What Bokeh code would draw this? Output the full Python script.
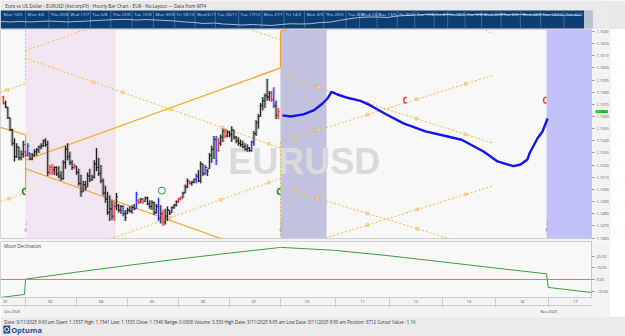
import numpy as np
from bokeh.plotting import figure
from bokeh.models import (Range1d, LinearAxis, FixedTicker, BoxAnnotation, Span, Label,
                          ColumnDataSource, NumeralTickFormatter)
from bokeh.layouts import column
from bokeh.embed import file_html
from bokeh.resources import INLINE
from bokeh.core.properties import value

FONT = "Open Sans"

# ---------------- texts ----------------
title_text = ("Euro vs US Dollar - EURUSD (AxicorpFX) - Hourly Bar Chart - EUR - "
              "No Layout --- Data from MT4")
status_text = ("Date: 3/11/2025 9:00 am Open: 1.1537 High: 1.1541 Low: 1.1533 Close: 1.1540 "
               "Range: 0.0008 Volume: 3,330 High Date: 3/11/2025 9:05 am Low Date: 3/11/2025 "
               "9:30 am Position: 8712 Cursor Value : 1.16")

# ---------------- navigator (long history) ----------------
nav_labels = ["Mon 13/5", "Mon 3/6", "Thu 20/6", "Wed 17/7", "Tue 6/8", "Thu 22/8", "Tue 10/9",
              "Mon 30/9", "Fri 18/10", "Wed 6/11", "Tue 26/11", "Tue 17/12", "Mon 27/1",
              "Fri 14/2", "Mon 3/3", "Thu 20/3", "Tue 8/4", "Wed 23/4", "Tue 13/5", "Fri 30/5",
              "Tue 17/6", "Fri 4/7", "Fri 18/7", "Tue 5/8", "Wed 20/8", "Tue 9/9", "Wed 24/9",
              "Tue 14/10", "Tue 4/11"]
nav_sep_px = [26, 50, 70, 93, 114, 136, 158, 180, 201, 222, 246, 270, 293, 314, 334, 357, 371,
              389, 410, 428, 448, 462, 480, 497, 517, 537, 558, 582]
nav_close = [1.081, 1.075, 1.081, 1.075, 1.081, 1.087, 1.081, 1.075, 1.081, 1.087, 1.094, 1.100,
             1.106, 1.109, 1.100, 1.106, 1.100, 1.094, 1.087, 1.075, 1.068, 1.055, 1.062, 1.049,
             1.043, 1.036, 1.043, 1.036, 1.030, 1.043, 1.052, 1.049, 1.052, 1.068, 1.072, 1.094,
             1.115, 1.132, 1.138, 1.138, 1.132, 1.151, 1.157, 1.164, 1.170, 1.166, 1.170, 1.164,
             1.164, 1.170, 1.167, 1.164, 1.170, 1.166, 1.170, 1.164, 1.166, 1.164, 1.160, 1.164,
             1.157]

# ---------------- hourly bars (x = bar number, 0 = Mon 3 Nov 00:00) ----------------
bar_x = list(range(-10, 115))
bar_high = [
    1.1577, 1.1573, 1.1568, 1.1559, 1.1550, 1.1542, 1.1538, 1.1535, 1.1532, 1.1540,
    1.1532, 1.1538, 1.1530, 1.1530, 1.1533, 1.1534, 1.1536, 1.1538, 1.1541, 1.1542,
    1.1540, 1.1520, 1.1521, 1.1519, 1.1519, 1.1519, 1.1515, 1.1524, 1.1536, 1.1538,
    1.1531, 1.1524, 1.1521, 1.1519, 1.1517, 1.1512, 1.1507, 1.1507, 1.1514, 1.1517,
    1.1512, 1.1524, 1.1534, 1.1526, 1.1520, 1.1509, 1.1503, 1.1498, 1.1495, 1.1491,
    1.1490, 1.1497, 1.1488, 1.1487, 1.1487, 1.1483, 1.1485, 1.1486, 1.1487, 1.1488,
    1.1498, 1.1492, 1.1493, 1.1493, 1.1494, 1.1494, 1.1491, 1.1491, 1.1490, 1.1488,
    1.1493, 1.1487, 1.1483, 1.1484, 1.1486, 1.1483, 1.1486, 1.1488, 1.1491, 1.1493,
    1.1494, 1.1498, 1.1504, 1.1509, 1.1507, 1.1507, 1.1509, 1.1513, 1.1516, 1.1523,
    1.1521, 1.1520, 1.1517, 1.1530, 1.1536, 1.1544, 1.1544, 1.1542, 1.1545, 1.1550,
    1.1550, 1.1549, 1.1548, 1.1552, 1.1549, 1.1544, 1.1543, 1.1541, 1.1540, 1.1538,
    1.1537, 1.1535, 1.1540, 1.1548, 1.1557, 1.1562, 1.1571, 1.1576, 1.1579, 1.1591,
    1.1581, 1.1581, 1.1584, 1.1573, 1.1567]
bar_low = [
    1.1570, 1.1567, 1.1558, 1.1548, 1.1536, 1.1523, 1.1526, 1.1524, 1.1524, 1.1526,
    1.1527, 1.1527, 1.1524, 1.1524, 1.1527, 1.1528, 1.1530, 1.1533, 1.1535, 1.1535,
    1.1511, 1.1512, 1.1512, 1.1512, 1.1511, 1.1509, 1.1507, 1.1508, 1.1517, 1.1524,
    1.1520, 1.1516, 1.1517, 1.1512, 1.1503, 1.1494, 1.1498, 1.1499, 1.1502, 1.1506,
    1.1507, 1.1509, 1.1515, 1.1511, 1.1505, 1.1495, 1.1489, 1.1479, 1.1474, 1.1475,
    1.1474, 1.1483, 1.1481, 1.1480, 1.1478, 1.1474, 1.1480, 1.1481, 1.1480, 1.1483,
    1.1484, 1.1488, 1.1489, 1.1488, 1.1490, 1.1487, 1.1484, 1.1483, 1.1479, 1.1480,
    1.1474, 1.1472, 1.1470, 1.1471, 1.1474, 1.1479, 1.1481, 1.1484, 1.1486, 1.1489,
    1.1491, 1.1493, 1.1497, 1.1501, 1.1504, 1.1503, 1.1505, 1.1505, 1.1506, 1.1505,
    1.1511, 1.1512, 1.1511, 1.1517, 1.1522, 1.1525, 1.1520, 1.1531, 1.1536, 1.1539,
    1.1542, 1.1543, 1.1543, 1.1539, 1.1541, 1.1538, 1.1536, 1.1535, 1.1534, 1.1532,
    1.1531, 1.1531, 1.1531, 1.1536, 1.1544, 1.1550, 1.1560, 1.1565, 1.1567, 1.1573,
    1.1573, 1.1572, 1.1567, 1.1558, 1.1558]
bar_open = [
    1.1576, 1.1571, 1.1567, 1.1559, 1.1549, 1.1538, 1.1527, 1.1535, 1.1526, 1.1529,
    1.1531, 1.1528, 1.1530, 1.1525, 1.1528, 1.1531, 1.1532, 1.1535, 1.1536, 1.1540,
    1.1537, 1.1514, 1.1518, 1.1516, 1.1518, 1.1513, 1.1511, 1.1509, 1.1522, 1.1533,
    1.1527, 1.1522, 1.1518, 1.1519, 1.1514, 1.1505, 1.1498, 1.1504, 1.1502, 1.1511,
    1.1508, 1.1510, 1.1521, 1.1518, 1.1513, 1.1507, 1.1497, 1.1492, 1.1481, 1.1484,
    1.1478, 1.1486, 1.1487, 1.1483, 1.1486, 1.1480, 1.1480, 1.1483, 1.1482, 1.1485,
    1.1484, 1.1491, 1.1489, 1.1492, 1.1490, 1.1493, 1.1488, 1.1486, 1.1489, 1.1481,
    1.1486, 1.1476, 1.1480, 1.1473, 1.1478, 1.1483, 1.1481, 1.1485, 1.1487, 1.1490,
    1.1492, 1.1493, 1.1497, 1.1502, 1.1507, 1.1505, 1.1506, 1.1508, 1.1511, 1.1507,
    1.1521, 1.1513, 1.1518, 1.1517, 1.1528, 1.1533, 1.1541, 1.1532, 1.1538, 1.1543,
    1.1548, 1.1544, 1.1547, 1.1545, 1.1549, 1.1543, 1.1540, 1.1538, 1.1537, 1.1535,
    1.1533, 1.1534, 1.1532, 1.1539, 1.1546, 1.1555, 1.1560, 1.1569, 1.1573, 1.1577,
    1.1576, 1.1579, 1.1574, 1.1569, 1.1561]
bar_close = [
    1.1571, 1.1568, 1.1559, 1.1549, 1.1538, 1.1527, 1.1535, 1.1526, 1.1529, 1.1537,
    1.1528, 1.1536, 1.1525, 1.1528, 1.1531, 1.1533, 1.1535, 1.1536, 1.1540, 1.1537,
    1.1514, 1.1518, 1.1516, 1.1518, 1.1513, 1.1511, 1.1509, 1.1522, 1.1533, 1.1527,
    1.1522, 1.1518, 1.1520, 1.1514, 1.1505, 1.1498, 1.1504, 1.1501, 1.1511, 1.1508,
    1.1510, 1.1521, 1.1518, 1.1513, 1.1507, 1.1497, 1.1492, 1.1481, 1.1484, 1.1478,
    1.1486, 1.1494, 1.1483, 1.1486, 1.1480, 1.1477, 1.1483, 1.1482, 1.1485, 1.1484,
    1.1496, 1.1489, 1.1492, 1.1490, 1.1493, 1.1488, 1.1486, 1.1489, 1.1481, 1.1486,
    1.1476, 1.1480, 1.1473, 1.1478, 1.1483, 1.1480, 1.1485, 1.1487, 1.1490, 1.1492,
    1.1493, 1.1497, 1.1502, 1.1507, 1.1505, 1.1506, 1.1508, 1.1511, 1.1507, 1.1521,
    1.1513, 1.1518, 1.1515, 1.1528, 1.1533, 1.1541, 1.1524, 1.1538, 1.1543, 1.1548,
    1.1544, 1.1547, 1.1545, 1.1549, 1.1543, 1.1540, 1.1538, 1.1537, 1.1535, 1.1533,
    1.1534, 1.1532, 1.1539, 1.1546, 1.1555, 1.1560, 1.1569, 1.1573, 1.1577, 1.1576,
    1.1579, 1.1574, 1.1569, 1.1561, 1.1564]
red_bars = [-10, 0, 11, 12, 22, 40, 51, 53, 62, 69, 70, 74, 87, 90, 111, 114]
blue_bars = [1, 44, 50, 60, 77, 81, 86, 102, 112]
last_price = 1.1564

# ---------------- projection curve ----------------
fc_x = [115.9, 119.5, 125.4, 129.9, 134.0, 136.2, 138.0, 140.7, 145.2, 151.1, 155.6, 162.4,
        170.5, 180.4, 188.5, 196.7, 200.7, 206.6, 212.9, 220.1, 223.3, 226.4, 227.3, 230.9,
        233.2, 235.5]
fc_y = [1.15609, 1.15600, 1.15617, 1.15650, 1.15707, 1.15748, 1.15802, 1.15781, 1.15754,
        1.15728, 1.15691, 1.15621, 1.15543, 1.15477, 1.15444, 1.15409, 1.15370, 1.15312,
        1.15230, 1.15191, 1.15205, 1.15246, 1.15296, 1.15419, 1.15477, 1.15584]

# ---------------- moon declination ----------------
md_x = [-11.3, -0.5, 0, 23, 46, 69, 92, 114, 115, 139, 163, 187, 211, 235, 235.8, 255.3]
md_y = [-15.4, -12.8, 0.3, 6.3, 12.0, 17.5, 22.6, 27.2, 27.5, 25.0, 20.5, 15.3, 10.0, 4.9,
        -6.8, -11.1]

# ---------------- time axis ----------------
day_bounds = [0, 23, 46, 69, 92, 115, 140, 164, 188, 212, 236]
day_ticks = [-9, 11, 34, 57, 80, 103, 127, 152, 176, 200, 224, 248]
day_labels = ["31", "03", "04", "05", "06", "07", "10", "11", "12", "13", "14", "17"]
month_ticks = [-6, 236]
month_labels = ["Oct 2025", "Nov 2025"]
price_ticks = [round(1.146 + 0.001 * k, 4) for k in range(18)]
decl_ticks = [-10, 0, 10, 20]

# ---------------- drawing tools (anchor points: bar, price) ----------------
solid_x0 = [-11.3, 0, 0, 0, 115, 115]
solid_y0 = [1.1551, 1.1545, 1.1524, 1.1517, 1.1630, 1.1630]
solid_x1 = [0, 0, 115, 89, 115, 121]
solid_y1 = [1.1545, 1.1498, 1.1600, 1.1459, 1.1600, 1.1634]
dot_x0 = [0, 0, 0, -11.3, -11.3, 38, 99, 115, 115, 115, 115, 132, 201]
dot_y0 = [1.1631, 1.1614, 1.1608, 1.1580, 1.1490, 1.1459, 1.1633, 1.1539, 1.1594, 1.1539,
          1.1502, 1.1458, 1.1637]
dot_x1 = [0, 29, 115, 0, 0, 115, 115, 115, 211, 211, 194, 211, 211]
dot_y1 = [1.1587, 1.1633, 1.1534, 1.1587, 1.1497, 1.1509, 1.1623, 1.1459, 1.1538, 1.1594,
          1.1458, 1.1503, 1.1628]
# markers on the tool lines: (line index in dotted list, bar)
mark_line = [2, 2, 2, 2, 2, 5, 5, 5, 8, 8, 8, 8, 9, 9, 9, 9, 10, 10, 10, 11, 11, 11, 3, 4]
mark_bar = [30.7, 43.8, 65.4, 88.9, 109.6, 65.4, 88.0, 109.6, 132.2, 154.3, 176.4, 198.5,
            132.2, 154.3, 176.4, 198.5, 131.7, 154.3, 176.8, 154.3, 176.8, 198.5, -8.3, -7.5]

# ---------------- event bands & cycle markers ----------------
band_left = [0, 115, 235]
band_right = [40.6, 135.8, None]
band_color = ["#f1e5f1", "#c2c2de", "#c1c1f7"]
green_cres_x = [0, 115]
green_cres_y = [1.14983, 1.14983]
red_cres_x = [171.9, 235]
red_cres_y = [1.15734, 1.15734]
astro_x = [0, 115, 235]
signal_x = [61.5]
signal_y = [1.1499]

# =====================================================================
BG = "#f3f3f3"
PLOT_BG = "#f8f8f8"
ORANGE = "#f6a320"
DOT_ORANGE = "#f8b548"
FRAME_W = 591

# ---------------- header ----------------
hdr = figure(width=625, height=29, x_range=Range1d(0, 625), y_range=Range1d(29, 0),
             toolbar_location=None, output_backend="svg", x_axis_location=None,
             y_axis_location=None, min_border=0)
hdr.grid.visible = False
hdr.outline_line_color = None
hdr.background_fill_color = "#e9e9e9"
hdr.border_fill_color = "#e9e9e9"
hdr.text(x=[5], y=[5], text=[title_text], text_font=value(FONT), text_font_size="4.6px",
         text_color="#333333", text_baseline="middle")
hdr.quad(left=[0], right=[603], top=[10], bottom=[28], fill_color="#0c3d73", line_color=None)
hdr.quad(left=[603], right=[612], top=[10], bottom=[28], fill_color="#b7c2d2", line_color=None)
hdr.segment(x0=nav_sep_px, y0=[10] * len(nav_sep_px), x1=nav_sep_px, y1=[28] * len(nav_sep_px),
            line_color="#3a6aa2", line_width=1)
nav_starts = [3] + [s + 2 for s in nav_sep_px]
hdr.text(x=nav_starts, y=[13.4] * len(nav_starts), text=nav_labels, text_font=value(FONT),
         text_font_size="4.3px", text_color="#cfdbea", text_baseline="middle")
hdr.extra_y_ranges = {"nav": Range1d(0.979, 1.348)}
hdr.line(x=list(np.linspace(0, 600, len(nav_close))), y=nav_close, y_range_name="nav",
         line_color="#e8eef6", line_width=0.8, line_alpha=0.9)

# ---------------- main price panel ----------------
xr = Range1d(-11.3, 255.3)
yr = Range1d(1.14596, 1.16316)
main = figure(frame_width=FRAME_W, frame_height=209, x_range=xr, y_range=yr,
              y_axis_location="right", x_axis_location=None, toolbar_location=None,
              output_backend="svg", min_border_left=0, min_border_top=0,
              min_border_bottom=0, min_border_right=0)
main.grid.visible = False
main.background_fill_color = PLOT_BG
main.border_fill_color = BG
main.outline_line_color = "#d4d4d4"
ya = main.yaxis[0]
ya.ticker = FixedTicker(ticks=price_ticks)
ya.formatter = NumeralTickFormatter(format="0.0000")
ya.major_label_text_font = FONT
ya.major_label_text_font_size = "3.9px"
ya.major_label_text_color = "#555555"
ya.major_tick_out = 3
ya.major_tick_in = 0
ya.minor_tick_line_color = None
ya.major_tick_line_color = "#999999"
ya.axis_line_color = "#c8c8c8"
ya.major_label_standoff = 2

for l, r, c in zip(band_left, band_right, band_color):
    main.add_layout(BoxAnnotation(left=l, right=r, fill_color=c, fill_alpha=1.0,
                                  line_alpha=0, level="underlay"))

# watermark
main.text(x=[xr.start + 0.514 * (xr.end - xr.start)], y=[yr.start + 0.369 * (yr.end - yr.start)],
          text=["EURUSD"], text_font=value("Liberation Sans"), text_font_style="bold",
          text_font_size="36px", text_color="#dadada", text_align="center",
          text_baseline="middle")

# tool lines
main.segment(x0=dot_x0, y0=dot_y0, x1=dot_x1, y1=dot_y1, line_color=DOT_ORANGE,
             line_width=1, line_dash="2 2")
main.segment(x0=solid_x0, y0=solid_y0, x1=solid_x1, y1=solid_y1, line_color=ORANGE,
             line_width=1.2)
mk_y = []
for li, bx in zip(mark_line, mark_bar):
    xa0, xb0 = dot_x0[li], dot_x1[li]
    ya0, yb0 = dot_y0[li], dot_y1[li]
    mk_y.append(ya0 + (yb0 - ya0) * (bx - xa0) / (xb0 - xa0))
main.scatter(x=mark_bar, y=mk_y, marker="square", size=2.6, fill_color="#fde2b5",
             line_color="#f5ae40", line_width=0.6)

# bars
colors, shades = [], []
for b in bar_x:
    if b in red_bars:
        colors.append("#ff2a2a"); shades.append("#ff8c8c")
    elif b in blue_bars:
        colors.append("#2323ff"); shades.append("#9a9aff")
    else:
        colors.append("#1c1c1c"); shades.append("#8e8e8e")
src = ColumnDataSource(dict(x=bar_x, h=bar_high, l=bar_low, o=bar_open, c=bar_close,
                            xl=[b - 0.6 for b in bar_x], xr=[b + 0.6 for b in bar_x],
                            col=colors, sh=shades))
main.vbar(x="x", width=1.5, top="h", bottom="l", fill_color="sh", fill_alpha=0.45,
          line_alpha=0, source=src)
main.segment(x0="x", y0="l", x1="x", y1="h", line_color="col", line_width=1, source=src)
main.segment(x0="xl", y0="o", x1="x", y1="o", line_color="col", line_width=1, source=src)
main.segment(x0="x", y0="c", x1="xr", y1="c", line_color="col", line_width=1, source=src)

# projection
main.line(x=fc_x, y=fc_y, line_color="#1414ea", line_width=2.4)

# cycle markers
main.arc(x=green_cres_x, y=green_cres_y, radius=3, radius_units="screen",
         start_angle=np.pi / 2, end_angle=3 * np.pi / 2, line_color="#1f8a1f", line_width=1.6)
main.arc(x=red_cres_x, y=red_cres_y, radius=3, radius_units="screen",
         start_angle=np.pi / 2, end_angle=3 * np.pi / 2, line_color="#f03c3c", line_width=1.4)
main.scatter(x=signal_x, y=signal_y, marker="circle", size=7, fill_color=None,
             line_color="#2f9a3a", line_width=1)
sym_y1 = yr.start + 0.075 * (yr.end - yr.start)
sym_y2 = yr.start + 0.043 * (yr.end - yr.start)
main.text(x=astro_x, y=[sym_y1] * 3, text=["☽"] * 3, text_font=value("DejaVu Sans"),
          text_font_size="5px", text_color="#8a9cc0", text_align="center",
          text_baseline="middle")
main.text(x=astro_x, y=[sym_y2] * 3, text=["♆"] * 3, text_font=value("DejaVu Sans"),
          text_font_size="5px", text_color="#8a9cc0", text_align="center",
          text_baseline="middle")

# last-price tag on the price scale (placed in a side panel so it is not clipped to the frame)
main.add_layout(Label(x=FRAME_W + 4, x_units="screen", y=last_price, y_units="data",
                      text="%.4f" % last_price, text_font=FONT, text_font_size="3.9px",
                      text_color="#222222", text_baseline="middle",
                      background_fill_color="#1ef01e", padding=0), "below")

# ---------------- moon declination panel ----------------
lower = figure(frame_width=FRAME_W, frame_height=56, x_range=xr, y_range=Range1d(-15.4, 32.5),
               y_axis_location="right", toolbar_location=None, output_backend="svg",
               min_border_left=0, min_border_top=0, min_border_right=0, min_border_bottom=0)
lower.grid.visible = False
lower.background_fill_color = PLOT_BG
lower.border_fill_color = BG
lower.outline_line_color = "#d4d4d4"
la = lower.yaxis[0]
la.ticker = FixedTicker(ticks=decl_ticks)
la.formatter = NumeralTickFormatter(format="0.00")
la.major_label_text_font = FONT
la.major_label_text_font_size = "3.9px"
la.major_label_text_color = "#555555"
la.major_tick_out = 3
la.major_tick_in = 0
la.minor_tick_line_color = None
la.major_tick_line_color = "#999999"
la.axis_line_color = "#c8c8c8"
la.major_label_standoff = 2

xa = lower.xaxis[0]
xa.ticker = FixedTicker(ticks=day_ticks, minor_ticks=day_bounds)
xa.major_label_overrides = {t: s for t, s in zip(day_ticks, day_labels)}
xa.major_label_text_font = FONT
xa.major_label_text_font_size = "3.9px"
xa.major_label_text_color = "#444444"
xa.major_tick_out = 0
xa.major_tick_in = 0
xa.minor_tick_out = 10
xa.minor_tick_in = 0
xa.minor_tick_line_color = "#cccccc"
xa.axis_line_color = "#cccccc"
xa.major_label_standoff = -8

ma = LinearAxis(ticker=FixedTicker(ticks=month_ticks))
ma.major_label_overrides = {t: s for t, s in zip(month_ticks, month_labels)}
ma.major_label_text_font = FONT
ma.major_label_text_font_size = "3.9px"
ma.major_label_text_color = "#444444"
ma.major_tick_out = 0
ma.major_tick_in = 0
ma.minor_tick_line_color = None
ma.axis_line_color = "#cccccc"
ma.major_label_standoff = 3
lower.add_layout(ma, "below")

lower.add_layout(Span(location=0, dimension="width", line_color="#ff6a6a", line_width=1))
lower.line(x=md_x, y=md_y, line_color="#3f9c3f", line_width=1)
lower.text(x=[xr.start + 1.6], y=[32.5 - 0.085 * 47.9], text=["Moon Declination"],
           text_font=value(FONT), text_font_size="4.5px", text_color="#444444",
           text_baseline="middle")

# ---------------- footer ----------------
ftr = figure(width=625, height=20, x_range=Range1d(0, 625), y_range=Range1d(20, 0),
             toolbar_location=None, output_backend="svg", x_axis_location=None,
             y_axis_location=None, min_border=0)
ftr.grid.visible = False
ftr.outline_line_color = None
ftr.background_fill_color = "#ebebeb"
ftr.border_fill_color = "#ebebeb"
ftr.text(x=[4], y=[5], text=[status_text], text_font=value(FONT), text_font_size="4.4px",
         text_color="#333333", text_baseline="middle")
ftr.quad(left=[3], right=[10], top=[9], bottom=[17], fill_color="#1f4f9f", line_color=None)
ftr.scatter(x=[6.5], y=[13], marker="circle", size=4, fill_color=None, line_color="white",
            line_width=1)
ftr.text(x=[11], y=[13.2], text=["Optuma"], text_font=value(FONT), text_font_style="bold",
         text_font_size="7.5px", text_color="#1f4f9f", text_baseline="middle")

layout = column(hdr, main, lower, ftr, spacing=0)
open("out.html", "w").write(file_html(layout, INLINE))
